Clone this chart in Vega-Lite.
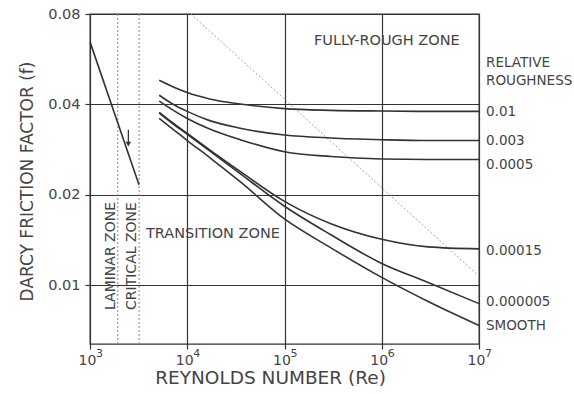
{
  "$schema": "https://vega.github.io/schema/vega-lite/v6.json",
  "width": 389,
  "height": 330,
  "autosize": "none",
  "padding": {"left": 90, "top": 14, "right": 95, "bottom": 50},
  "background": "white",
  "config": {
    "font": "DejaVu Sans",
    "view": {"stroke": "#333", "strokeWidth": 1.3},
    "axis": {
      "grid": true,
      "gridColor": "#333",
      "gridWidth": 1.2,
      "gridOpacity": 1,
      "domain": false,
      "tickColor": "#333",
      "tickSize": 5,
      "tickWidth": 1.2,
      "labelColor": "#444",
      "titleColor": "#444",
      "titleFontWeight": "normal",
      "labelFont": "DejaVu Sans",
      "titleFont": "DejaVu Sans"
    }
  },
  "datasets": {
    "curves": [
      {"curve": "0.01", "Re": 5150, "f": 0.0481}, {"curve": "0.01", "Re": 7000, "f": 0.0459}, {"curve": "0.01", "Re": 10000, "f": 0.0438}, {"curve": "0.01", "Re": 17000, "f": 0.0417}, {"curve": "0.01", "Re": 35000, "f": 0.0401}, {"curve": "0.01", "Re": 100000, "f": 0.0387}, {"curve": "0.01", "Re": 300000, "f": 0.0382}, {"curve": "0.01", "Re": 1000000, "f": 0.0380}, {"curve": "0.01", "Re": 3000000, "f": 0.0379}, {"curve": "0.01", "Re": 10000000, "f": 0.0379},
      {"curve": "0.003", "Re": 5150, "f": 0.0429}, {"curve": "0.003", "Re": 7000, "f": 0.0402}, {"curve": "0.003", "Re": 10000, "f": 0.0379}, {"curve": "0.003", "Re": 17000, "f": 0.0353}, {"curve": "0.003", "Re": 35000, "f": 0.0333}, {"curve": "0.003", "Re": 100000, "f": 0.0316}, {"curve": "0.003", "Re": 300000, "f": 0.0309}, {"curve": "0.003", "Re": 1000000, "f": 0.0305}, {"curve": "0.003", "Re": 3000000, "f": 0.0303}, {"curve": "0.003", "Re": 10000000, "f": 0.0303},
      {"curve": "0.0005", "Re": 5150, "f": 0.0410}, {"curve": "0.0005", "Re": 7000, "f": 0.0384}, {"curve": "0.0005", "Re": 10000, "f": 0.0359}, {"curve": "0.0005", "Re": 17000, "f": 0.0331}, {"curve": "0.0005", "Re": 35000, "f": 0.0305}, {"curve": "0.0005", "Re": 100000, "f": 0.0278}, {"curve": "0.0005", "Re": 300000, "f": 0.0268}, {"curve": "0.0005", "Re": 1000000, "f": 0.0263}, {"curve": "0.0005", "Re": 3000000, "f": 0.0262}, {"curve": "0.0005", "Re": 10000000, "f": 0.0262},
      {"curve": "0.00015", "Re": 5150, "f": 0.0376}, {"curve": "0.00015", "Re": 7000, "f": 0.0348}, {"curve": "0.00015", "Re": 10000, "f": 0.0320}, {"curve": "0.00015", "Re": 17000, "f": 0.0282}, {"curve": "0.00015", "Re": 35000, "f": 0.0239}, {"curve": "0.00015", "Re": 100000, "f": 0.0190}, {"curve": "0.00015", "Re": 300000, "f": 0.0160}, {"curve": "0.00015", "Re": 1000000, "f": 0.0142}, {"curve": "0.00015", "Re": 3000000, "f": 0.0134}, {"curve": "0.00015", "Re": 10000000, "f": 0.0132},
      {"curve": "0.000005", "Re": 5150, "f": 0.0374}, {"curve": "0.000005", "Re": 7000, "f": 0.0346}, {"curve": "0.000005", "Re": 10000, "f": 0.0318}, {"curve": "0.000005", "Re": 17000, "f": 0.0280}, {"curve": "0.000005", "Re": 35000, "f": 0.0235}, {"curve": "0.000005", "Re": 100000, "f": 0.0183}, {"curve": "0.000005", "Re": 300000, "f": 0.0147}, {"curve": "0.000005", "Re": 1000000, "f": 0.0118}, {"curve": "0.000005", "Re": 3000000, "f": 0.0102}, {"curve": "0.000005", "Re": 10000000, "f": 0.00867},
      {"curve": "smooth", "Re": 5150, "f": 0.0359}, {"curve": "smooth", "Re": 7000, "f": 0.0332}, {"curve": "smooth", "Re": 10000, "f": 0.0303}, {"curve": "smooth", "Re": 17000, "f": 0.0266}, {"curve": "smooth", "Re": 35000, "f": 0.0221}, {"curve": "smooth", "Re": 100000, "f": 0.0166}, {"curve": "smooth", "Re": 300000, "f": 0.0133}, {"curve": "smooth", "Re": 1000000, "f": 0.0106}, {"curve": "smooth", "Re": 3000000, "f": 0.00881}, {"curve": "smooth", "Re": 10000000, "f": 0.00733},
      {"curve": "laminar", "Re": 1000, "f": 0.0646}, {"curve": "laminar", "Re": 3190, "f": 0.0216}
    ],
    "rough": [
      {"Re": 10900, "f": 0.08}, {"Re": 10000000, "f": 0.0107}
    ],
    "zones": [
      {"Re": 1930, "f": 0.08, "f2": 0.00636},
      {"Re": 3200, "f": 0.08, "f2": 0.00636}
    ],
    "arrow": [
      {"Re": 2480, "f": 0.0329, "f2": 0.0295}
    ],
    "exponents": [
      {"Re": 1000, "f": 0.00636, "label": "3"},
      {"Re": 10000, "f": 0.00636, "label": "4"},
      {"Re": 100000, "f": 0.00636, "label": "5"},
      {"Re": 1000000, "f": 0.00636, "label": "6"},
      {"Re": 10000000, "f": 0.00636, "label": "7"}
    ],
    "zoneText": [
      {"Re": 1127000, "f": 0.0649, "label": "FULLY-ROUGH ZONE"},
      {"Re": 18370, "f": 0.01474, "label": "TRANSITION ZONE"}
    ],
    "vertText": [
      {"Re": 1636, "f": 0.01249, "label": "LAMINAR ZONE"},
      {"Re": 2683, "f": 0.01249, "label": "CRITICAL ZONE"}
    ],
    "rightText": [
      {"Re": 10000000, "f": 0.0550, "label": "RELATIVE"},
      {"Re": 10000000, "f": 0.0478, "label": "ROUGHNESS"},
      {"Re": 10000000, "f": 0.0376, "label": "0.01"},
      {"Re": 10000000, "f": 0.0301, "label": "0.003"},
      {"Re": 10000000, "f": 0.0251, "label": "0.0005"},
      {"Re": 10000000, "f": 0.01295, "label": "0.00015"},
      {"Re": 10000000, "f": 0.00875, "label": "0.000005"},
      {"Re": 10000000, "f": 0.00732, "label": "SMOOTH"}
    ]
  },
  "encoding": {
    "x": {
      "field": "Re",
      "type": "quantitative",
      "scale": {"type": "log", "domain": [1000, 10000000], "nice": false},
      "axis": {
        "values": [1000, 10000, 100000, 1000000, 10000000],
        "labelExpr": "'10'",
        "labelFontSize": 14,
        "labelBaseline": "alphabetic",
        "labelPadding": 15,
        "labelOffset": -3,
        "labelFlush": false,
        "title": "REYNOLDS NUMBER (Re)",
        "titleFontSize": 18.5,
        "titleX": 180,
        "titleY": 39,
        "titleBaseline": "alphabetic",
        "titleAlign": "center"
      }
    },
    "y": {
      "field": "f",
      "type": "quantitative",
      "scale": {"type": "log", "domain": [0.00636, 0.08], "nice": false, "zero": false},
      "axis": {
        "values": [0.01, 0.02, 0.04, 0.08],
        "format": ".2f",
        "labelFontSize": 14.5,
        "labelPadding": 5,
        "labelFlush": false,
        "title": "DARCY FRICTION FACTOR (f)",
        "titleFontSize": 17,
        "titleAngle": 270,
        "titleX": -58,
        "titleY": 167,
        "titleBaseline": "alphabetic",
        "titleAlign": "center"
      }
    }
  },
  "layer": [
    {
      "data": {"name": "zones"},
      "mark": {"type": "rule", "color": "#888", "strokeWidth": 1, "strokeDash": [2, 2]},
      "encoding": {"y2": {"field": "f2"}}
    },
    {
      "data": {"name": "rough"},
      "mark": {"type": "line", "color": "#999", "strokeWidth": 0.9, "strokeDash": [2, 2]},
      "encoding": {}
    },
    {
      "data": {"name": "curves"},
      "mark": {"type": "line", "color": "#333", "strokeWidth": 1.6, "interpolate": "monotone"},
      "encoding": {"detail": {"field": "curve"}, "order": {"field": "Re", "type": "quantitative"}}
    },
    {
      "data": {"name": "arrow"},
      "mark": {"type": "rule", "color": "#333", "strokeWidth": 1.3},
      "encoding": {"y2": {"field": "f2"}}
    },
    {
      "data": {"name": "arrow"},
      "mark": {"type": "point", "shape": "triangle-down", "filled": true, "color": "#333", "size": 30, "opacity": 1},
      "encoding": {"y": {"field": "f2", "type": "quantitative"}}
    },
    {
      "data": {"name": "exponents"},
      "mark": {"type": "text", "fontSize": 11, "color": "#444", "align": "left", "baseline": "alphabetic", "dx": 6, "dy": 13},
      "encoding": {"text": {"field": "label"}}
    },
    {
      "data": {"name": "zoneText"},
      "mark": {"type": "text", "fontSize": 14.5, "color": "#444", "align": "center", "baseline": "middle"},
      "encoding": {"text": {"field": "label"}}
    },
    {
      "data": {"name": "vertText"},
      "mark": {"type": "text", "fontSize": 14, "color": "#444", "align": "center", "baseline": "middle", "angle": 270},
      "encoding": {"text": {"field": "label"}}
    },
    {
      "data": {"name": "rightText"},
      "mark": {"type": "text", "fontSize": 13.5, "color": "#444", "align": "left", "baseline": "middle", "dx": 7},
      "encoding": {"text": {"field": "label"}}
    }
  ]
}
